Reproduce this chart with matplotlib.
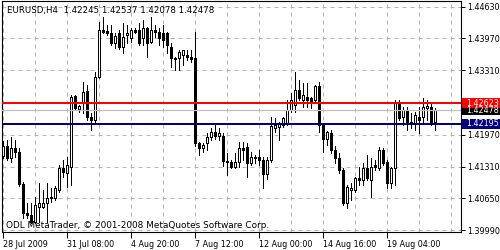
import matplotlib.pyplot as plt
from matplotlib.patches import Rectangle
from matplotlib.transforms import blended_transform_factory

# EURUSD H4 bars, bar 0 = 28 Jul 2009
opens = [1.41531, 1.41739, 1.41490, 1.41697, 1.41614, 1.40951, 1.40349, 1.40307, 1.40162, 1.40473,
         1.40473, 1.40556, 1.40660, 1.40660, 1.40826, 1.41283, 1.41179, 1.41303, 1.42776, 1.42507,
         1.42652, 1.42880, 1.42341, 1.42278, 1.43170, 1.44146, 1.44125, 1.44083, 1.43876, 1.44083,
         1.43793, 1.44042, 1.43980, 1.44146, 1.44146, 1.43980, 1.44187, 1.43897, 1.44146, 1.44104,
         1.44083, 1.44083, 1.43793, 1.43565, 1.43565, 1.43627, 1.43627, 1.43585, 1.43565, 1.41801,
         1.41697, 1.41801, 1.41926, 1.42029, 1.41946, 1.41946, 1.41428, 1.41407, 1.41303, 1.41407,
         1.41697, 1.41718, 1.41386, 1.41511, 1.41511, 1.41448, 1.41158, 1.41448, 1.42112, 1.42133,
         1.42175, 1.42195, 1.42486, 1.42590, 1.42901, 1.42693, 1.42756, 1.42735, 1.42693, 1.42984,
         1.42175, 1.41884, 1.42009, 1.41656, 1.41490, 1.41241, 1.40556, 1.40826, 1.40826, 1.41075,
         1.41034, 1.41283, 1.41034, 1.41345, 1.41283, 1.41656, 1.41407, 1.40971, 1.41283, 1.42631,
         1.42341, 1.42486, 1.42216, 1.42216, 1.42341, 1.42341, 1.42527, 1.42548, 1.42245]
highs = [1.41843, 1.41863, 1.41926, 1.41863, 1.41697, 1.40992, 1.40556, 1.40556, 1.40681, 1.40971,
         1.40826, 1.40971, 1.40868, 1.40909, 1.41345, 1.41448, 1.41511, 1.42797, 1.42797, 1.42590,
         1.43067, 1.43005, 1.42424, 1.43274, 1.44312, 1.44415, 1.44249, 1.44249, 1.44083, 1.44146,
         1.44291, 1.44249, 1.44187, 1.44187, 1.44291, 1.44353, 1.44208, 1.44415, 1.44249, 1.44187,
         1.44249, 1.44104, 1.43876, 1.43585, 1.43731, 1.43731, 1.43731, 1.43731, 1.44104, 1.41822,
         1.41801, 1.42009, 1.42112, 1.42195, 1.42112, 1.42009, 1.41594, 1.41448, 1.41594, 1.41822,
         1.41822, 1.41801, 1.41614, 1.41552, 1.41656, 1.41511, 1.41511, 1.42341, 1.42320, 1.42237,
         1.42341, 1.42693, 1.42839, 1.43274, 1.43108, 1.43046, 1.43046, 1.42756, 1.43005, 1.43067,
         1.42216, 1.42050, 1.42071, 1.41739, 1.41594, 1.41283, 1.40930, 1.40971, 1.41096, 1.41303,
         1.41386, 1.41552, 1.41490, 1.41448, 1.41718, 1.41697, 1.41448, 1.41303, 1.42693, 1.42693,
         1.42548, 1.42548, 1.42424, 1.42444, 1.42548, 1.42735, 1.42693, 1.42631, 1.42537]
lows = [1.41490, 1.41448, 1.41407, 1.41511, 1.40909, 1.40245, 1.40245, 1.40141, 1.40141, 1.40162,
        1.40453, 1.40162, 1.40577, 1.40619, 1.40785, 1.41096, 1.40888, 1.40930, 1.42486, 1.42444,
        1.42424, 1.42278, 1.42071, 1.42237, 1.43150, 1.44083, 1.44042, 1.43834, 1.43772, 1.43751,
        1.43668, 1.43876, 1.43897, 1.44083, 1.43834, 1.43834, 1.43585, 1.43876, 1.44000, 1.43834,
        1.43793, 1.43668, 1.43378, 1.43316, 1.43316, 1.43419, 1.43523, 1.43482, 1.41739, 1.41552,
        1.41614, 1.41656, 1.41863, 1.41884, 1.41863, 1.41324, 1.41137, 1.41283, 1.41283, 1.41303,
        1.41448, 1.41096, 1.41345, 1.41386, 1.41345, 1.40868, 1.41054, 1.41407, 1.42029, 1.41863,
        1.42133, 1.42175, 1.42444, 1.42444, 1.42693, 1.42548, 1.42548, 1.42527, 1.42652, 1.42029,
        1.41614, 1.41760, 1.41594, 1.41386, 1.41179, 1.40515, 1.40453, 1.40619, 1.40785, 1.40930,
        1.40930, 1.41034, 1.40681, 1.41241, 1.41241, 1.41345, 1.40868, 1.40868, 1.40930, 1.42278,
        1.42175, 1.42071, 1.42112, 1.42071, 1.42009, 1.42216, 1.42278, 1.42175, 1.42078]
closes = [1.41739, 1.41490, 1.41697, 1.41614, 1.40951, 1.40349, 1.40307, 1.40162, 1.40515, 1.40556,
          1.40556, 1.40660, 1.40681, 1.40868, 1.41283, 1.41200, 1.41345, 1.42756, 1.42527, 1.42569,
          1.42859, 1.42341, 1.42278, 1.43170, 1.44146, 1.44104, 1.44083, 1.43876, 1.44021, 1.43793,
          1.44000, 1.44083, 1.44146, 1.44104, 1.43876, 1.44187, 1.43876, 1.44146, 1.44104, 1.43980,
          1.43938, 1.43834, 1.43565, 1.43544, 1.43689, 1.43731, 1.43585, 1.43544, 1.41801, 1.41697,
          1.41760, 1.41926, 1.42029, 1.41946, 1.42009, 1.41428, 1.41407, 1.41303, 1.41407, 1.41697,
          1.41656, 1.41386, 1.41511, 1.41490, 1.41448, 1.41158, 1.41448, 1.42154, 1.42175, 1.42195,
          1.42320, 1.42486, 1.42693, 1.42901, 1.42735, 1.42797, 1.42693, 1.42673, 1.42984, 1.42175,
          1.41884, 1.42029, 1.41656, 1.41490, 1.41241, 1.40556, 1.40888, 1.40868, 1.41075, 1.41034,
          1.41283, 1.41075, 1.41303, 1.41303, 1.41656, 1.41386, 1.40971, 1.41283, 1.42631, 1.42320,
          1.42486, 1.42237, 1.42237, 1.42382, 1.42278, 1.42548, 1.42569, 1.42216, 1.42478]

price_ticks = [1.44630, 1.43970, 1.43310, 1.41970, 1.41310, 1.40650, 1.39990]
date_ticks = [0, 16, 32, 48, 64, 80, 96]
date_labels = ['28 Jul 2009', '31 Jul 08:00', '4 Aug 20:00', '7 Aug 12:00',
               '12 Aug 00:00', '14 Aug 16:00', '19 Aug 04:00']
grid_x = list(range(0, 113, 8))

red_level = 1.42623
blue_level = 1.42195
bid = 1.42478
title = 'EURUSD,H4  1.42245 1.42537 1.42078 1.42478'

fs = 5.8
plt.rcParams['font.family'] = ['DejaVu Sans']

fig = plt.figure(figsize=(5, 2.5), dpi=100)
ax = fig.add_axes([2 / 500, 18 / 250, 459 / 500, 231 / 250])
ax.set_xlim(-0.25, 114.5)
ax.set_ylim(1.39954, 1.44747)

# grid
for p in price_ticks:
    ax.axhline(p, color='#b4b4b4', lw=0.72, ls=(0, (4, 4)), zorder=0.5)
for gx in grid_x:
    ax.axvline(gx, color='#b4b4b4', lw=0.72, ls=(0, (4, 4)), zorder=0.5)

# candles
idx = list(range(len(opens)))
ax.vlines(idx, lows, highs, colors='black', lw=0.72, zorder=2, antialiased=False)
bottoms = [min(o, c) for o, c in zip(opens, closes)]
heights = [abs(c - o) for o, c in zip(opens, closes)]
fills = ['white' if c >= o else 'black' for o, c in zip(opens, closes)]
ax.bar(idx, heights, bottom=bottoms, width=0.5, color=fills, edgecolor='black',
       linewidth=0.72, zorder=2.5, antialiased=False)

# horizontal levels + bid line
ax.axhline(bid, color='#c0c0c0', lw=0.9, zorder=3)
ax.axhline(red_level, color='#ff0000', lw=1.44, zorder=3.2)
ax.axhline(blue_level, color='#000080', lw=1.44, zorder=3.2)

# axes styling
for s in ax.spines.values():
    s.set_color('black')
    s.set_linewidth(0.8)
ax.yaxis.tick_right()
ax.set_yticks(price_ticks)
ax.set_yticklabels(['%.5f' % p for p in price_ticks])
ax.tick_params(axis='y', length=3, width=0.72, pad=1.5, labelsize=fs, colors='black')
ax.set_xticks(date_ticks)
ax.set_xticklabels(date_labels)
ax.tick_params(axis='x', length=4, width=0.72, pad=1.5, labelsize=fs, colors='black')
for lab in ax.get_xticklabels():
    lab.set_ha('left')

# price label boxes on the right
trans = blended_transform_factory(ax.transAxes, ax.transData)
half = 5 * (1.44747 - 1.39954) / 231
for p, col in [(bid, 'black'), (red_level, '#ff0000'), (blue_level, '#000080')]:
    ax.add_patch(Rectangle((1 + 1 / 459, p - half), 40 / 459, 2 * half, transform=trans,
                           facecolor=col, edgecolor='none', clip_on=False, zorder=5))
    ax.text(1 + 5 / 459, p, '%.5f' % p, transform=trans, ha='left', va='center',
            color='white', fontsize=fs, clip_on=False, zorder=6)

fig.text(7 / 500, 1 - 11 / 250, title, ha='left', va='center', fontsize=6.2, color='black')
fig.text(6 / 500, 1 - 225 / 250, 'ODL MetaTrader, \u00a9 2001-2008 MetaQuotes Software Corp.',
         ha='left', va='center', fontsize=6.4, color='black')

fig.savefig('out.png', dpi=100, facecolor='white')
